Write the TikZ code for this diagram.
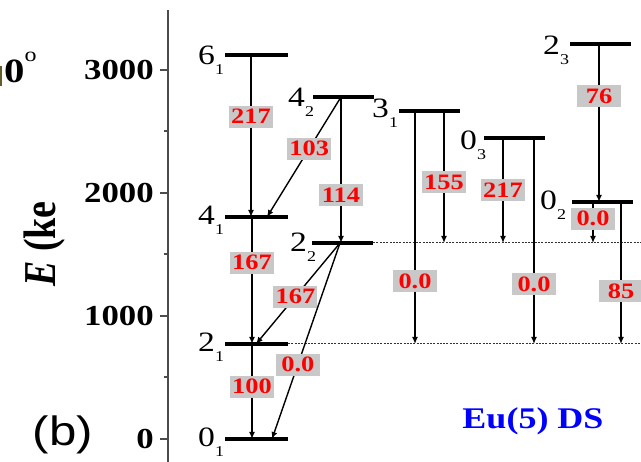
\documentclass[tikz,border=0pt]{standalone}
\usepackage{fontspec}
\setmainfont{Liberation Serif}[FakeStretch=1.2]
\setsansfont{Liberation Sans}[FakeStretch=1.2]
\newfontfamily\plainserif{Liberation Serif}
\usepackage{graphicx}
\usepackage{xcolor}
\usetikzlibrary{arrows.meta,positioning}
\definecolor{boxgray}{RGB}{200,200,200}
\newcommand{\lev}[2]{#1\raisebox{-10pt}{\fontsize{15}{15}\selectfont #2}}

\begin{document}
\begin{tikzpicture}[x=1pt, y=-1pt,
    statebar/.style={line width=3.4pt},
    trans/.style={line width=1.4pt, -{Latex[length=7pt,width=6pt]}},
    guide/.style={line width=1pt, black!80, dash pattern=on 2pt off 1.3pt},
    axisline/.style={line width=2pt, black!70},
    gbox/.style={fill=boxgray, text=red, font=\bfseries\fontsize{22}{22}\selectfont,
                 inner sep=0pt, minimum width=44pt, minimum height=22pt},
    levlab/.style={anchor=base west, inner sep=0pt, font=\fontsize{28}{28}\selectfont},
    ticklab/.style={anchor=east, inner sep=0pt, font=\bfseries\fontsize{29}{29}\selectfont}]
    \useasboundingbox (0,0) rectangle (641,462);

    % =========================================================
    % Energy axis
    % =========================================================
    \draw[axisline] (168,10) -- (168,462);
    \foreach \e in {0,1000,2000,3000} {
        \draw[axisline] (160,{439-0.123*\e}) -- (168,{439-0.123*\e});
        \node[ticklab] at (154,{439-0.123*\e}) {\e};
    }
    \foreach \e in {500,1500,2500}
        \draw[axisline] (164,{439-0.123*\e}) -- (168,{439-0.123*\e});
    \node[rotate=90, anchor=base west, inner sep=0pt] (ylab) at (55,287)
        {\scalebox{1}[1.2]{\plainserif\fontsize{38}{38}\selectfont\textbf{\textit{E}} \textbf{(ke}}};

    % Leftovers from the neighbouring panel
    \fill[olive!60!black] (0,66) rectangle (2,86);
    \node[anchor=base west, inner sep=0pt, font=\bfseries\fontsize{34}{34}\selectfont] (ang) at (4,83)
        {0\raisebox{21pt}{\mdseries\fontsize{20}{20}\selectfont o}};
    \node[font=\sffamily\fontsize{41}{41}\selectfont] (panel) at (63,435) {(b)};

    % =========================================================
    % Levels (left ends)
    % =========================================================
    \coordinate (l61) at (225,55);
    \coordinate (l41) at (225,217);
    \coordinate (l21) at (225,344);
    \coordinate (l01) at (225,439);
    \coordinate (l42) at (313,97);
    \coordinate (l22) at (312,243);
    \coordinate (l31) at (399,111);
    \coordinate (l03) at (484,138);
    \coordinate (l23) at (570,44);
    \coordinate (l02) at (572,202);

    % dotted guides at 2_2 and 2_1
    \draw[guide] ([xshift=61]l22) -- (641,243);
    \draw[guide] ([xshift=63]l21) -- (641,344);

    \foreach \l in {l61,l41,l21,l01}
        \draw[statebar] (\l) -- ++(63,0);
    \foreach \l in {l42,l22,l31,l03,l23,l02}
        \draw[statebar] (\l) -- ++(61,0);

    \node[levlab] at (198,65)  {\lev{6}{1}};
    \node[levlab] at (198,225) {\lev{4}{1}};
    \node[levlab] at (198,352) {\lev{2}{1}};
    \node[levlab] at (198,447) {\lev{0}{1}};
    \node[levlab] at (288,107) {\lev{4}{2}};
    \node[levlab] at (290,252) {\lev{2}{2}};
    \node[levlab] at (372,118) {\lev{3}{1}};
    \node[levlab] at (460,150) {\lev{0}{3}};
    \node[levlab] at (543,55)  {\lev{2}{3}};
    \node[levlab] at (540,210) {\lev{0}{2}};

    % =========================================================
    % Transitions
    % =========================================================
    \draw[trans] ([xshift=26]l61) -- ([xshift=26]l41) node[gbox, pos=.38] {217};
    \draw[trans] ([xshift=28]l42) -- ([xshift=42]l41) node[gbox, pos=.43] {103};
    \draw[trans] ([xshift=28]l42) -- ([xshift=29]l22) node[gbox, pos=.67] {114};
    \draw[trans] ([xshift=27]l41) -- ([xshift=27]l21) node[gbox, pos=.36] {167};
    \draw[trans] ([xshift=28]l22) -- ([xshift=31]l21) node[gbox, pos=.53] {167};
    \draw[trans] ([xshift=28]l22) -- ([xshift=47]l01) node[gbox, pos=.62] {0.0};
    \draw[trans] ([xshift=27]l21) -- ([xshift=27]l01) node[gbox, pos=.45] {100};
    \draw[trans] ([xshift=16]l31) -- ([xshift=190]l21) node[gbox, pos=.73] {0.0};
    \draw[trans] ([xshift=45]l31) -- ([xshift=132]l22) node[gbox, pos=.54] {155};
    \draw[trans] ([xshift=19]l03) -- ([xshift=191]l22) node[gbox, pos=.50] {217};
    \draw[trans] ([xshift=50]l03) -- ([xshift=309]l21) node[gbox, pos=.71] {0.0};
    \draw[trans] ([xshift=29]l23) -- ([xshift=27]l02) node[gbox, pos=.33] {76};
    \draw[trans] ([xshift=21]l02) -- ([xshift=281]l22) node[gbox, pos=.41] {0.0};
    \draw[trans] ([xshift=49]l02) -- ([xshift=396]l21) node[gbox, pos=.63] {85};

    \node[text=blue, font=\bfseries\fontsize{30}{30}\selectfont] (ds) at (533,421) {Eu(5) DS};
\end{tikzpicture}
\end{document}
